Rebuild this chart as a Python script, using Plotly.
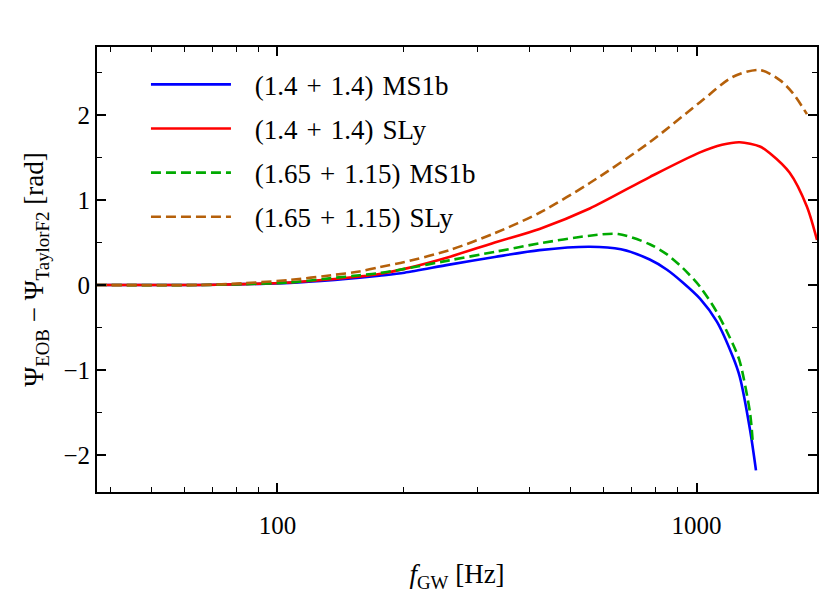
import plotly.graph_objects as go
import numpy as np

# ---- data ----
blue_f = [37, 65, 83, 107, 137, 157, 175, 201, 257, 330, 422, 556, 660, 773, 850, 927, 1019, 1118, 1222, 1268, 1341, 1386]
blue_v = [0, 0, 0.01, 0.025, 0.06, 0.085, 0.11, 0.145, 0.24, 0.33, 0.41, 0.45, 0.42, 0.30, 0.18, 0.03, -0.16, -0.43, -0.85, -1.08, -1.70, -2.18]

red_f = [37, 65, 83, 107, 137, 157, 175, 201, 257, 330, 422, 556, 773, 1019, 1150, 1268, 1416, 1496, 1668, 1834, 1938]
red_v = [0, 0, 0.01, 0.03, 0.07, 0.10, 0.13, 0.19, 0.33, 0.50, 0.66, 0.90, 1.27, 1.56, 1.65, 1.68, 1.63, 1.55, 1.32, 0.92, 0.53]

green_f = [37, 65, 83, 107, 137, 157, 175, 201, 257, 330, 422, 556, 650, 773, 850, 927, 1019, 1118, 1222, 1268, 1341, 1362]
green_v = [0, 0, 0.01, 0.03, 0.085, 0.115, 0.14, 0.19, 0.29, 0.39, 0.49, 0.58, 0.60, 0.48, 0.36, 0.20, -0.02, -0.32, -0.70, -0.90, -1.50, -1.86]

brown_f = [37, 65, 83, 107, 137, 157, 175, 201, 257, 330, 422, 556, 773, 1019, 1222, 1416, 1580, 1695, 1834]
brown_v = [0, 0, 0.02, 0.06, 0.12, 0.16, 0.21, 0.27, 0.41, 0.61, 0.85, 1.20, 1.68, 2.15, 2.45, 2.53, 2.41, 2.26, 2.01]

names = ["(1.4 + 1.4) MS1b", "(1.4 + 1.4) SLy", "(1.65 + 1.15) MS1b", "(1.65 + 1.15) SLy"]
colors = ["#0000ff", "#ff0000", "#00aa00", "#b5600a"]
dashes = ["solid", "solid", "10px,5px", "10px,5px"]

x_major = [100, 1000]
x_minor = [40, 50, 60, 70, 80, 90, 200, 300, 400, 500, 600, 700, 800, 900]
y_major = [-2, -1, 0, 1, 2]
y_minor = [-1.5, -0.5, 0.5, 1.5, 2.5]

FONT = "Liberation Serif"


def legend_label(s):
    # math-like spacing around the plus sign and before the EOS name
    return "\u2002\u2009" + s.replace(" + ", "\u2004+\u2004").replace(") ", ")\u2004")


fig = go.Figure()
series = [(blue_f, blue_v), (red_f, red_v), (green_f, green_v), (brown_f, brown_v)]
for i, (f, v) in enumerate(series):
    fig.add_trace(go.Scatter(
        x=f, y=v, mode="lines", name=legend_label(names[i]), legendgroup=str(i),
        line=dict(color=colors[i], width=2.6, dash=dashes[i], shape="spline", smoothing=0.8),
    ))

axis_common = dict(
    showline=True, linecolor="black", linewidth=2, mirror="allticks",
    ticks="inside", ticklen=9, tickwidth=1.5, tickcolor="black",
    showgrid=False, zeroline=False,
    tickfont=dict(family=FONT, size=25, color="black"),
)

fig.update_layout(
    width=834, height=598,
    margin=dict(l=97, r=17, t=47, b=106),
    paper_bgcolor="white", plot_bgcolor="white",
    font=dict(family=FONT, color="black"),
    xaxis=dict(
        type="log", range=[np.log10(37.1), np.log10(1938)],
        tickmode="array", tickvals=x_major, ticktext=[str(t) for t in x_major],
        ticklabelstandoff=10,
        minor=dict(tickmode="array", tickvals=x_minor, ticks="inside", ticklen=5, tickwidth=1.2, tickcolor="black"),
        title=dict(text="<i>f</i><sub>GW</sub> [Hz]", font=dict(family=FONT, size=27), standoff=26),
        **axis_common,
    ),
    yaxis=dict(
        range=[-2.435, 2.80],
        tickmode="array", tickvals=y_major,
        minor=dict(tickmode="array", tickvals=y_minor, ticks="inside", ticklen=5, tickwidth=1.2, tickcolor="black"),
        title=dict(text="Ψ<sub>EOB</sub> − Ψ<sub>TaylorF2</sub> [rad]", font=dict(family=FONT, size=27), standoff=12),
        **axis_common,
    ),
    legend=dict(
        x=0.068, y=0.97, xanchor="left", yanchor="top",
        bgcolor="rgba(0,0,0,0)", borderwidth=0,
        font=dict(family=FONT, size=27, color="black"),
        tracegroupgap=6, itemwidth=80,
    ),
)

fig.write_html("out.html")
